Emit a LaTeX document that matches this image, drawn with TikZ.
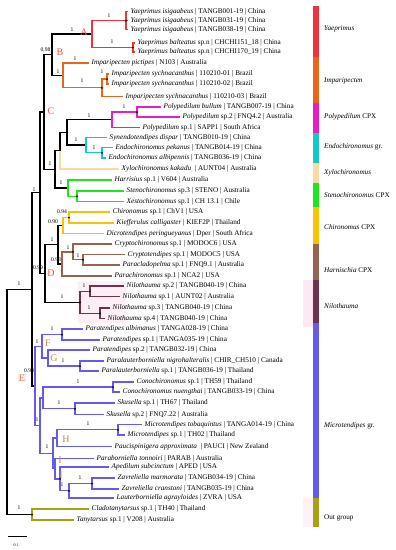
\documentclass[tikz,border=0pt]{standalone}
\usepackage{fontspec}
\setmainfont{Liberation Serif}
\definecolor{cA}{RGB}{240,50,60}
\definecolor{cB}{RGB}{232,102,26}
\definecolor{cP}{RGB}{230,30,200}
\definecolor{cE}{RGB}{20,200,200}
\definecolor{cX}{RGB}{250,218,160}
\definecolor{cS}{RGB}{30,230,30}
\definecolor{cCh}{RGB}{250,195,0}
\definecolor{cHa}{RGB}{150,100,80}
\definecolor{cNi}{RGB}{110,50,80}
\definecolor{cMi}{RGB}{100,90,240}
\definecolor{cOut}{RGB}{170,160,20}
\definecolor{cLet}{RGB}{240,80,80}
\definecolor{cTan}{RGB}{185,145,75}
\definecolor{cPink}{RGB}{253,232,244}
\tikzset{
  br/.style={line width=1.3pt},
  lab/.style={anchor=west, font=\fontsize{7.2}{8}\selectfont, inner sep=0pt, xshift=2.5pt},
  bs/.style={font=\fontsize{5.6}{6}\selectfont, inner sep=0pt},
  clet/.style={font=\fontsize{10}{10}\selectfont, inner sep=0pt},
  cname/.style={anchor=west, font=\fontsize{7.2}{8}\selectfont, inner sep=0pt},
  dot/.style={fill=black, inner sep=0pt, minimum size=2pt, circle},
}
\newcommand{\tip}[4]{\coordinate (#1) at (#2,#3); \node[lab] (#1l) at (#1) {#4};}
\newcommand{\inn}[3]{\coordinate (#1) at (#2,#3);}
\begin{document}
\begin{tikzpicture}[x=1pt,y=-1pt]
\useasboundingbox (0,0) rectangle (396,550);
\fill[white] (0,0) rectangle (396,550);
% faint highlight boxes
\fill[cPink!70] (78,281) rectangle (126,323);
\fill[cPink] (303,280) rectangle (313,327);
\fill[cPink!60] (303,498) rectangle (313,527);
% ---- leaves ----
\tip{t1}{128}{11.5}{\textit{Yaeprimus isigaabeus} | TANGB001-19 | China}
\tip{t2}{128}{20.5}{\textit{Yaeprimus isigaabeus} | TANGB031-19 | China}
\tip{t3}{128}{29.5}{\textit{Yaeprimus isigaabeus} | TANGB038-19 | China}
\tip{t4}{135}{43}{\textit{Yaeprimus balteatus} sp.n | CHCHI151\_18 | China}
\tip{t5}{135}{52}{\textit{Yaeprimus balteatus} sp.n | CHCHI170\_19 | China}
\tip{t6}{89}{63}{\textit{Imparipecten pictipes} | N103 | Australia}
\tip{t7}{109}{74}{\textit{Imparipecten sychnacanthus} | 110210-01 | Brazil}
\tip{t8}{109}{84}{\textit{Imparipecten sychnacanthus} | 110210-02 | Brazil}
\tip{t9}{123}{96.5}{\textit{Imparipecten sychnacanthus} | 110210-03 | Brazil}
\tip{t10}{161}{107}{\textit{Polypedilum bullum} | TANGB007-19 | China}
\tip{t11}{180}{117}{\textit{Polypedilum} sp.2 | FNQ4.2 | Australia}
\tip{t12}{140}{127.5}{\textit{Polypedilum} sp.1 | SAPP1 | South Africa}
\tip{t13}{107}{137.5}{\textit{Synendotendipes dispar} | TANGB010-19 | China}
\tip{t14}{113}{147.5}{\textit{Endochironomus pekanus} | TANGB014-19 | China}
\tip{t15}{106}{158}{\textit{Endochironomus albipennis} | TANGB036-19 | China}
\tip{t16}{119}{169}{\textit{Xylochironomus kakadu} \ | AUNT04 | Australia}
\tip{t17}{112}{180}{\textit{Harrisius} sp.1 | V604 | Australia}
\tip{t18}{124}{191}{\textit{Stenochironomus} sp.3 | STENO | Australia}
\tip{t19}{124}{201.5}{\textit{Xestochironomus} sp.1 | CH 13.1 | Chile}
\tip{t20}{110}{212}{\textit{Chironomus} sp.1 | ChV1 | USA}
\tip{t21}{114}{223}{\textit{Kiefferulus calligaster} | KIEF2P | Thailand}
\tip{t22}{104}{233.5}{\textit{Dicrotendipes peringueyanus} | Dper | South Africa}
\tip{t23}{112}{244}{\textit{Cryptochironomus} sp.1 | MODOC6 | USA}
\tip{t24}{125}{254.5}{\textit{Cryptotendipes} sp.1 | MODOC5 | USA}
\tip{t25}{120}{265}{\textit{Paracladopelma} sp.1 | FNQ9.1 | Australia}
\tip{t26}{112}{276}{\textit{Parachironomus} sp.1 | NCA2 | USA}
\tip{t27}{124}{286}{\textit{Nilothauma} sp.2 | TANGB040-19 | China}
\tip{t28}{120}{296.5}{\textit{Nilothauma} sp.1 | AUNT02 | Australia}
\tip{t29}{110}{308}{\textit{Nilothauma} sp.3 | TANGB040-19 | China}
\tip{t30}{105}{318.5}{\textit{Nilothauma} sp.4 | TANGB040-19 | China}
\tip{t31}{83}{329}{\textit{Paratendipes albimanus} | TANGA028-19 | China}
\tip{t32}{100}{340}{\textit{Paratendipes} sp.1 | TANGA035-19 | China}
\tip{t33}{90}{350}{\textit{Paratendipes} sp.2 | TANGB032-19 | China}
\tip{t34}{104}{361}{\textit{Paralauterborniella nigrohalteralis} | CHIR\_CH510 | Canada}
\tip{t35}{99}{371}{\textit{Paralauterborniella} sp.1 | TANGB036-19 | Thailand}
\tip{t36}{134}{382}{\textit{Conochironomus} sp.1 | TH59 | Thailand}
\tip{t37}{120}{392}{\textit{Conochironomus nuengthai} | TANGB033-19 | China}
\tip{t38}{115}{403}{\textit{Skusella} sp.1 | TH67 | Thailand}
\tip{t39}{104}{414.5}{\textit{Skusella} sp.2 | FNQ7.22 | Australia}
\tip{t40}{142}{424.5}{\textit{Microtendipes tobaquintus} | TANGA014-19 | China}
\tip{t41}{125}{435}{\textit{Microtendipes} sp.1 | TH02 | Thailand}
\tip{t42}{112}{446.5}{\textit{Paucispinigera approximata} \ | PAUCI | New Zealand}
\tip{t43}{94}{458.5}{\textit{Paraborniella tonnoiri} | PARAB | Australia}
\tip{t44}{109}{467}{\textit{Apedilum subcinctum} | APED | USA}
\tip{t45}{115}{478}{\textit{Zavreliella marmorata} | TANGB034-19 | China}
\tip{t46}{119}{489}{\textit{Zavreliella cranstoni} | TANGB035-19 | China}
\tip{t47}{114}{498}{\textit{Lauterborniella agrayloides} | ZVRA | USA}
\tip{t48}{89}{509}{\textit{Cladotanytarsus} sp.1 | TH40 | Thailand}
\tip{t49}{74}{520}{\textit{Tanytarsus} sp.1 | V208 | Australia}
% ---- internal nodes ----
\inn{nA1}{126}{20.5}
\inn{nA2}{133}{47.5}
\inn{nA}{92}{34}
\inn{nB2}{107}{79}
\inn{nB1}{102}{87.75}
\inn{nB}{63}{75.4}
\inn{nAB}{52}{54.7}
\inn{nP2}{137}{112}
\inn{nP1}{112}{119.75}
\inn{nE2}{102}{152.75}
\inn{nE1}{86}{145.1}
\inn{nQ}{67}{132.4}
\inn{nR}{60}{150.7}
\inn{nSt}{77}{196.25}
\inn{nH1}{68}{188.1}
\inn{nS}{55}{169.4}
\inn{nC}{44}{112.05}
\inn{nCh2}{69}{217.5}
\inn{nCh1}{63}{225.5}
\inn{nHa3}{83}{259.75}
\inn{nHa2}{73}{251.9}
\inn{nHa1}{62}{263.9}
\inn{nChHa}{58}{244.7}
\inn{nNi2}{90}{291.25}
\inn{nNi3}{100}{313.25}
\inn{nNi1}{80}{302.25}
\inn{nD}{45}{273.5}
\inn{nU}{40}{192.8}
\inn{nPa1}{62}{334.5}
\inn{nPl}{80}{366}
\inn{nG}{48}{358}
\inn{nF}{42}{346.25}
\inn{nCo}{113}{387}
\inn{nSk}{75}{408.75}
\inn{nCS}{43}{397.9}
\inn{nMi}{118}{429.75}
\inn{nH}{57}{438.1}
\inn{nZa}{92}{483.5}
\inn{nZL}{69}{490.75}
\inn{nJ2}{60}{478.9}
\inn{nJ}{55}{468.7}
\inn{nI}{53}{453.4}
\inn{nE4}{40}{425.65}
\inn{nE}{35}{385.95}
\inn{nIn}{32}{289.4}
\inn{nOut}{32}{514.5}
\inn{nRoot}{7}{401.95}
% ---- branches ----
\draw[br] (nRoot) |- (nIn);
\draw[br] (nRoot) |- (nOut);
\draw[br] (nIn) |- (nU);
\draw[br] (nIn) |- (nE);
\draw[br] (nU) |- (nC);
\draw[br] (nU) |- (nD);
\draw[br] (nC) |- (nAB);
\draw[br] (nC) |- (nS);
\draw[br] (nAB) |- (nA);
\draw[br] (nAB) |- (nB);
\draw[br] (nS) |- (nR);
\draw[br] (nS) |- (nH1);
\draw[br] (nR) |- (nQ);
\draw[br] (nQ) |- (nP1);
\draw[br] (nQ) |- (nE1);
\draw[br] (nD) |- (nChHa);
\draw[br] (nD) |- (nNi1);
\draw[br] (nChHa) |- (nCh1);
\draw[br] (nChHa) |- (nHa1);
% Yaeprimus
\draw[br,cA] (nA) |- (nA1);
\draw[br,cA] (nA) |- (nA2);
\draw[br,cA] (nA1) |- (t1);
\draw[br,cA] (nA1) |- (t2);
\draw[br,cA] (nA1) |- (t3);
\draw[br,cA] (nA2) |- (t4);
\draw[br,cA] (nA2) |- (t5);
% Imparipecten
\draw[br,cB] (nB) |- (t6);
\draw[br,cB] (nB) |- (nB1);
\draw[br,cB] (nB1) |- (nB2);
\draw[br,cB] (nB1) |- (t9);
\draw[br,cB] (nB2) |- (t7);
\draw[br,cB] (nB2) |- (t8);
% Polypedilum
\draw[br,cP] (nP1) |- (nP2);
\draw[br,cP] (nP1) |- (t12);
\draw[br,cP] (nP2) |- (t10);
\draw[br,cP] (nP2) |- (t11);
% Endochironomus
\draw[br,cE] (nE1) |- (t13);
\draw[br,cE] (nE1) |- (nE2);
\draw[br,cE] (nE2) |- (t14);
\draw[br,cE] (nE2) |- (t15);
% Xylochironomus
\draw[br,cX] (nR) |- (t16);
% Stenochironomus
\draw[br,cS] (nH1) |- (t17);
\draw[br,cS] (nH1) |- (nSt);
\draw[br,cS] (nSt) |- (t18);
\draw[br,cS] (nSt) |- (t19);
% Chironomus
\draw[br,cCh] (nCh1) |- (nCh2);
\draw[br,cCh] (nCh1) |- (t22);
\draw[br,cCh] (nCh2) |- (t20);
\draw[br,cCh] (nCh2) |- (t21);
% Harnischia
\draw[br,cHa] (nHa1) |- (nHa2);
\draw[br,cHa] (nHa1) |- (t26);
\draw[br,cHa] (nHa2) |- (t23);
\draw[br,cHa] (nHa2) |- (nHa3);
\draw[br,cHa] (nHa3) |- (t24);
\draw[br,cHa] (nHa3) |- (t25);
% Nilothauma
\draw[br,cNi] (nNi1) |- (nNi2);
\draw[br,cNi] (nNi1) |- (nNi3);
\draw[br,cNi] (nNi2) |- (t27);
\draw[br,cNi] (nNi2) |- (t28);
\draw[br,cNi] (nNi3) |- (t29);
\draw[br,cNi] (nNi3) |- (t30);
% Microtendipes gr.
\draw[br,cMi] (nE) |- (nF);
\draw[br,cMi] (nE) |- (nE4);
\draw[br,cMi] (nF) |- (nPa1);
\draw[br,cMi] (nF) |- (nG);
\draw[br,cMi] (nPa1) |- (t31);
\draw[br,cMi] (nPa1) |- (t32);
\draw[br,cMi] (nG) |- (t33);
\draw[br,cMi] (nG) |- (nPl);
\draw[br,cMi] (nPl) |- (t34);
\draw[br,cMi] (nPl) |- (t35);
\draw[br,cMi] (nE4) |- (nCS);
\draw[br,cMi] (nE4) |- (nI);
\draw[br,cMi] (nCS) |- (nCo);
\draw[br,cMi] (nCS) |- (nSk);
\draw[br,cMi] (nCo) |- (t36);
\draw[br,cMi] (nCo) |- (t37);
\draw[br,cMi] (nSk) |- (t38);
\draw[br,cMi] (nSk) |- (t39);
\draw[br,cMi] (nI) |- (nH);
\draw[br,cMi] (nI) |- (nJ);
\draw[br,cMi] (nH) |- (nMi);
\draw[br,cMi] (nH) |- (t42);
\draw[br,cMi] (nMi) |- (t40);
\draw[br,cMi] (nMi) |- (t41);
\draw[br,cMi] (nJ) |- (t43);
\draw[br,cMi] (nJ) |- (nJ2);
\draw[br,cMi] (nJ2) |- (t44);
\draw[br,cMi] (nJ2) |- (nZL);
\draw[br,cMi] (nZL) |- (nZa);
\draw[br,cMi] (nZL) |- (t47);
\draw[br,cMi] (nZa) |- (t45);
\draw[br,cMi] (nZa) |- (t46);
% outgroup
\draw[br,cOut] (nOut) |- (t48);
\draw[br,cOut] (nOut) |- (t49);
% node dots
\foreach \n in {nA1,nA2,nB2,nB1,nP2,nE2,nSt,nCh2,nHa3,nHa2,nNi2,nNi3,nNi1,nPa1,nPl,nCo,nSk,nMi,nZa,nZL,nJ2,nOut}
  \node[dot] at (\n) {};
% ---- support values ----
\node[bs] (s1) at (109,16) {1};
\node[bs] (s2) at (112,42) {1};
\node[bs] (s3) at (72,30) {1};
\node[bs] (s4) at (45.5,50) {0.98};
\node[bs] (s5) at (75,59) {1};
\node[bs] (s6) at (58,72) {1};
\node[bs] (s7) at (82,81) {1};
\node[bs] (s8) at (102,72) {1};
\node[bs] (s9) at (124,107) {1};
\node[bs] (s10) at (89,116) {1};
\node[bs] (s11) at (76,140) {1};
\node[bs] (s12) at (94,148) {1};
\node[bs] (s13) at (50,164) {1};
\node[bs] (s14) at (61,183) {1};
\node[bs] (s15) at (34,190) {1};
\node[bs] (s16) at (62,212) {0.94};
\node[bs] (s17) at (53,222) {0.90};
\node[bs] (s18) at (52,240) {1};
\node[bs] (s19) at (68,248) {1};
\node[bs] (s20) at (78,256) {1};
\node[bs] (s21) at (56,260) {0.98};
\node[bs] (s22) at (38,268) {0.99};
\node[bs] (s23) at (62,297) {1};
\node[bs] (s24) at (84,286) {1};
\node[bs] (s25) at (89,308) {1};
\node[bs] (s26) at (19,284) {1};
\node[bs] (s27) at (37,342) {1};
\node[bs] (s28) at (52,329) {1};
\node[bs] (s29) at (63,361) {1};
\node[bs] (s30) at (29,371) {0.98};
\node[bs] (s31) at (78,382) {1};
\node[bs] (s32) at (59,403) {1};
\node[bs] (s33) at (37,420) {1};
\node[bs] (s34) at (88,424) {1};
\node[bs] (s35) at (47,447) {1};
\node[bs] (s36) at (80,478) {1};
\node[bs] (s37) at (62,485) {1};
\node[bs] (s38) at (19,508) {1};
% ---- clade letters ----
\node[clet,cLet] (LA) at (84,32) {A};
\node[clet,cLet] (LB) at (60,52) {B};
\node[clet,cLet] (LC) at (51,111) {C};
\node[clet,cLet] (LD) at (51,273) {D};
\node[clet,cTan,fill=cPink,inner sep=1pt] (LE) at (22,378) {E};
\node[clet,cTan] (LF) at (48,343) {F};
\node[clet,cTan] (LG) at (54,358) {G};
\node[clet,cTan] (LH) at (66,439) {H};
\node[clet,cTan] (LI1) at (60,460) {I};
\node[clet,cTan] (LI2) at (61,475) {I};
% ---- colour bar ----
\fill[cA] (313,6) rectangle (319,57);
\fill[cB] (313,57) rectangle (319,103);
\fill[cP] (313,103) rectangle (319,133);
\fill[cE] (313,133) rectangle (319,163);
\fill[cX] (313,163) rectangle (319,183);
\fill[cS] (313,183) rectangle (319,207);
\fill[cCh] (313,207) rectangle (319,244);
\fill[cHa] (313,244) rectangle (319,280);
\fill[cNi] (313,280) rectangle (319,323);
\fill[cMi] (313,323) rectangle (319,498);
\fill[cOut] (313,498) rectangle (319,527);
\node[cname] (k1) at (324,29) {\textit{Yaeprimus}};
\node[cname] (k2) at (324,81) {\textit{Imparipecten}};
\node[cname] (k3) at (324,117) {\textit{Polypedilum} CPX};
\node[cname] (k4) at (324,147) {\textit{Endochironomus} gr.};
\node[cname] (k5) at (324,173) {\textit{Xylochironomus}};
\node[cname] (k6) at (324,195) {\textit{Stenochironomus} CPX};
\node[cname] (k7) at (324,227) {\textit{Chironomus} CPX};
\node[cname] (k8) at (324,270) {\textit{Harnischia} CPX};
\node[cname] (k9) at (324,306) {\textit{Nilothauma}};
\node[cname] (k10) at (324,426) {\textit{Microtendipes} gr.};
\node[cname] (k11) at (324,518) {Out group};
% ---- scale bar ----
\coordinate (sb1) at (8,536);
\coordinate (sb2) at (27,536);
\draw[line width=0.8pt] (sb1) -- (sb2);
\node[font=\fontsize{4}{4}\selectfont, inner sep=0pt] (sbl) at (16,545) {0.1};
\end{tikzpicture}
\end{document}
